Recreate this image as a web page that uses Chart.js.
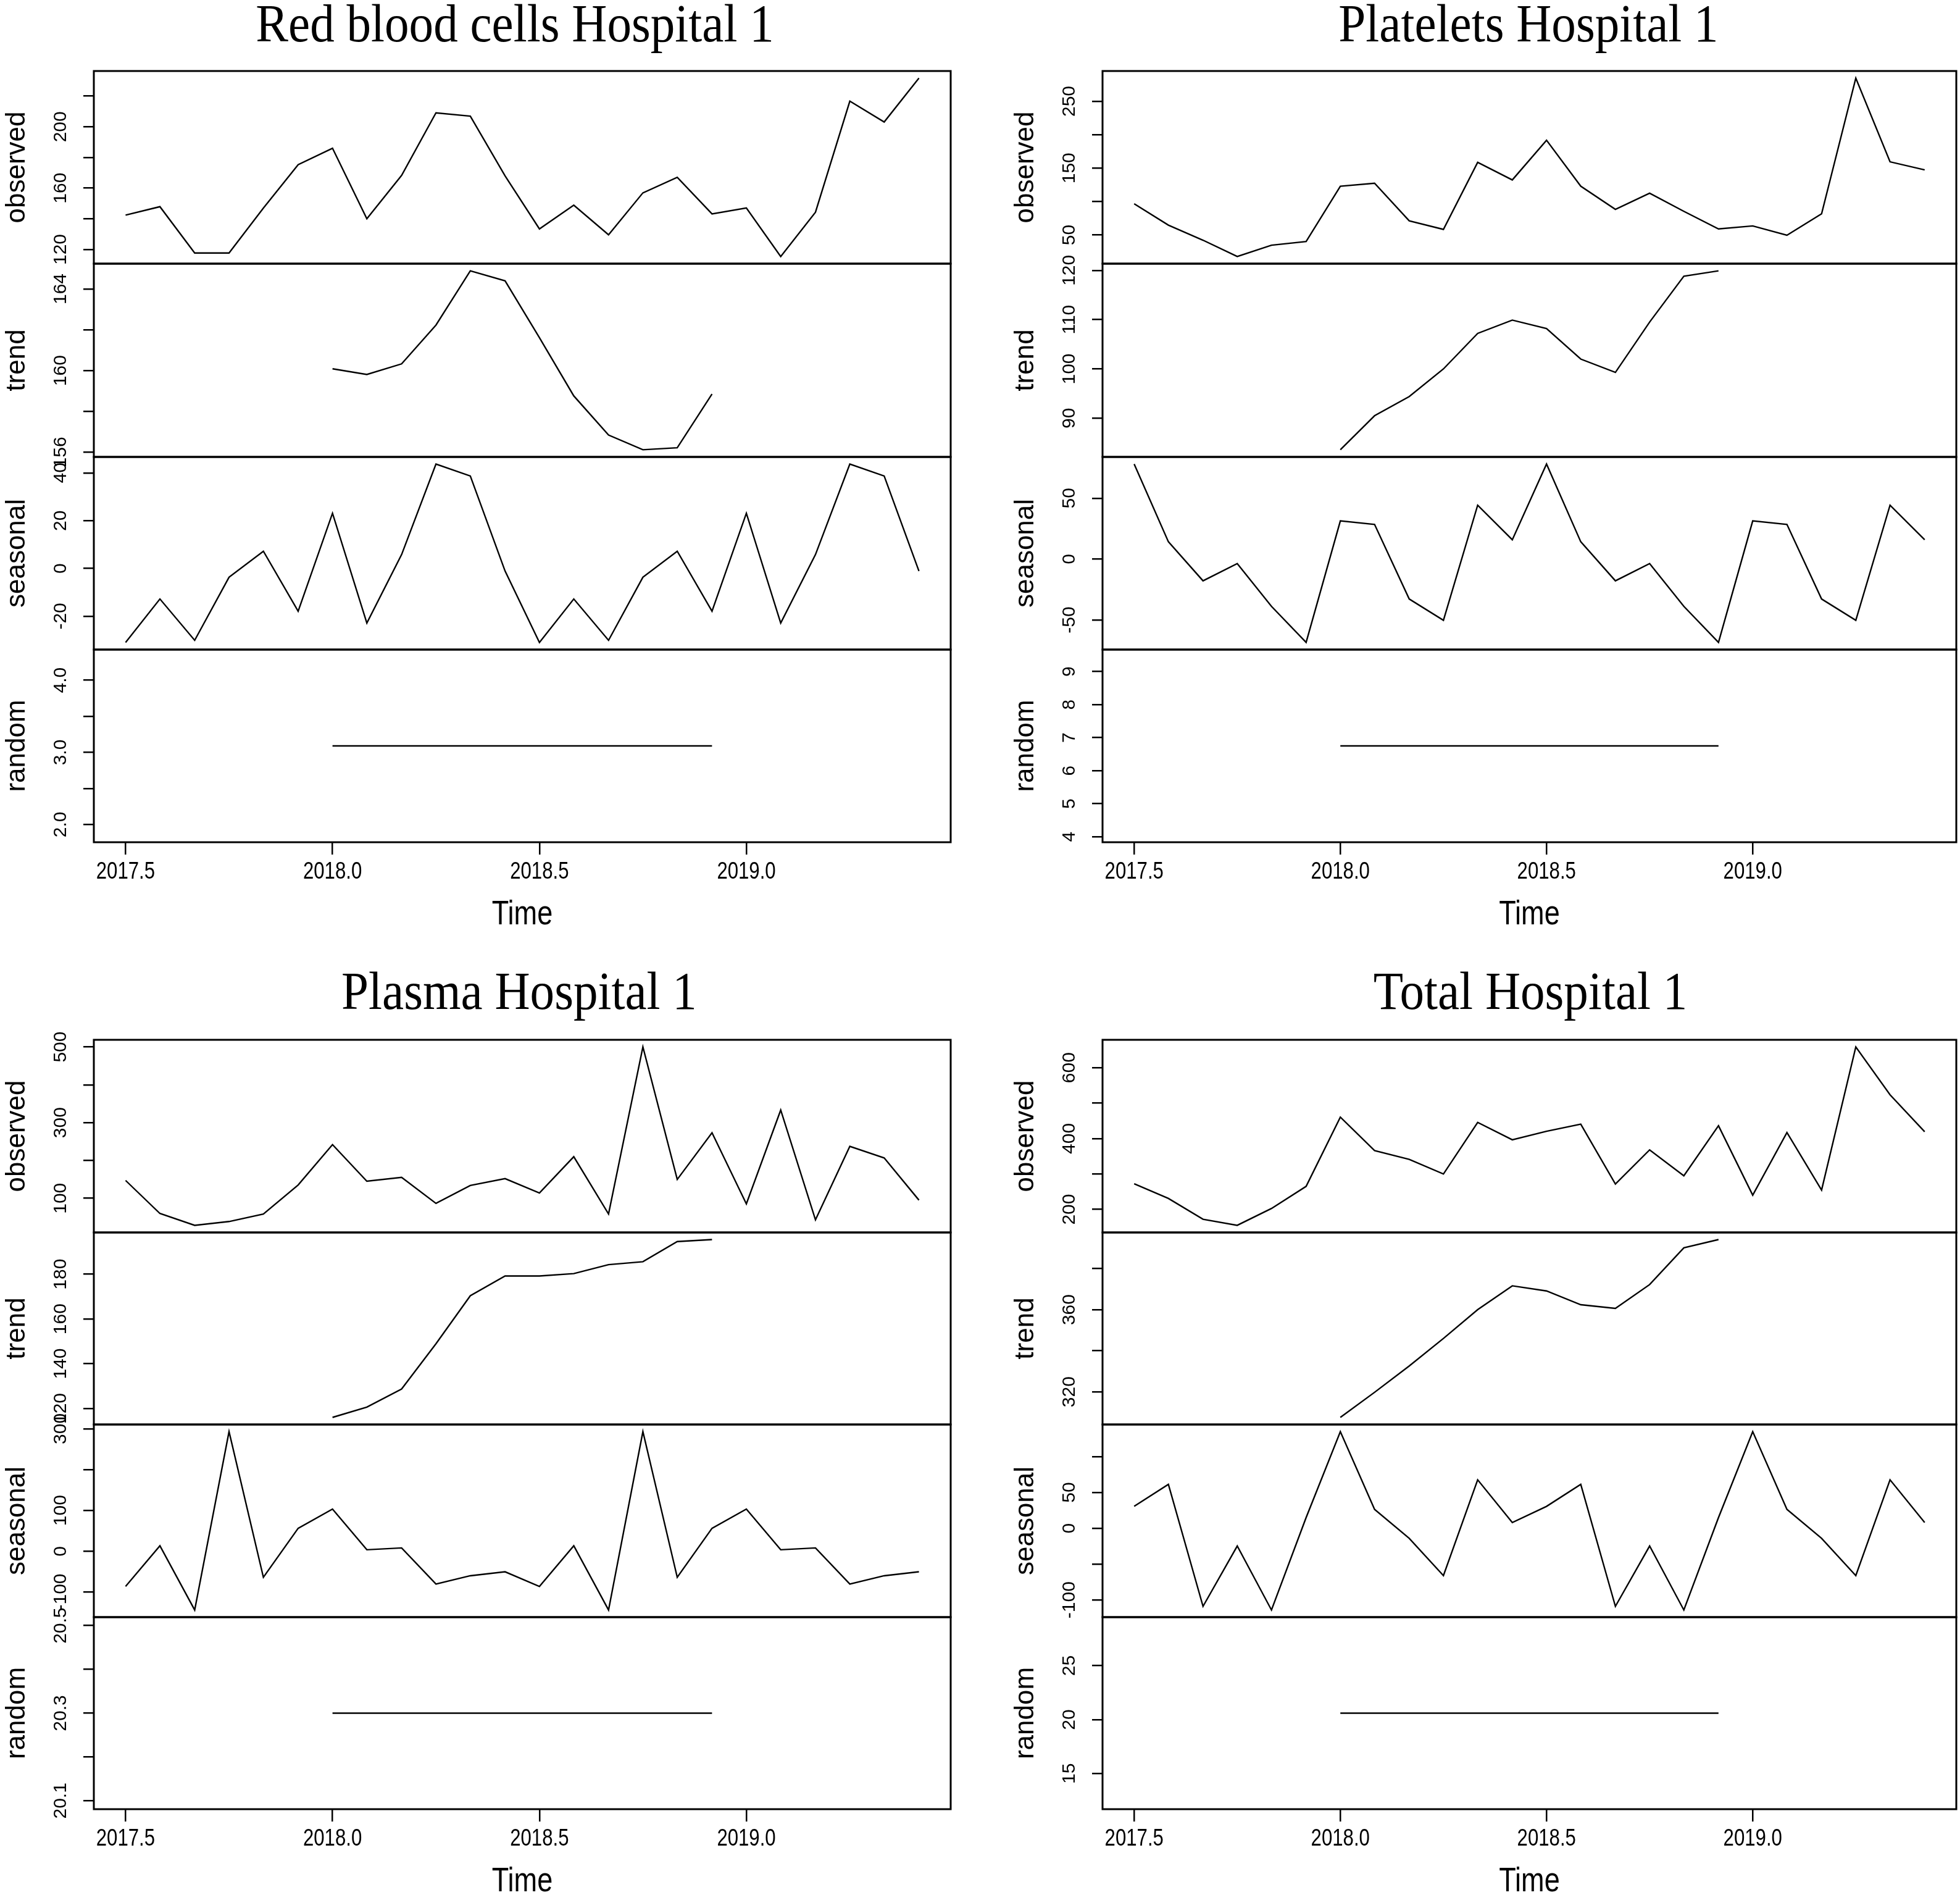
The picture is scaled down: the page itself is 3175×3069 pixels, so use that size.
<!DOCTYPE html>
<html>
<head>
<meta charset="utf-8">
<script src="https://cdn.jsdelivr.net/npm/chart.js@4.4.1/dist/chart.umd.min.js"></script>
<style>
  body { margin: 0; background: #fff; width: 3175px; height: 3069px; position: relative; overflow: hidden; }
  canvas { position: absolute; }
  .title { position: absolute; font-family: "Liberation Serif", "Times New Roman", serif; font-size: 86px; line-height: 1; color: #000; white-space: nowrap; transform: translateX(-50%) scaleX(0.92); }
</style>
</head>
<body>
<script>
// monthly time axis, Jul 2017 - Jun 2019
const time = [2017.5, 2017.583, 2017.667, 2017.75, 2017.833, 2017.917,
              2018.0, 2018.083, 2018.167, 2018.25, 2018.333, 2018.417,
              2018.5, 2018.583, 2018.667, 2018.75, 2018.833, 2018.917,
              2019.0, 2019.083, 2019.167, 2019.25, 2019.333, 2019.417];
const xTickValues = [2017.5, 2018.0, 2018.5, 2019.0];
const xTickLabels = ['2017.5', '2018.0', '2018.5', '2019.0'];

// Red blood cells
const rbcObserved = [142.4, 147.9, 117.7, 117.7, 147, 175.3, 186, 140, 168.3, 209.1, 206.9, 168,
                     133.4, 148.9, 129.6, 156.9, 167, 143.2, 147.1, 115.4, 144.3, 216.7, 203.1, 231.7];
const rbcTrend = [null, null, null, null, null, null,
                  160.09, 159.81, 160.33, 162.23, 164.89, 164.40, 161.61, 158.76, 156.84, 156.12, 156.22, 158.85,
                  null, null, null, null, null, null];
const rbcSeasonal = [-31.0, -12.8, -30.1, -3.7, 7.2, -17.9, 23.1, -22.9, 5.8, 43.7, 38.7, -1.1,
                     -31.0, -12.8, -30.1, -3.7, 7.2, -17.9, 23.1, -22.9, 5.8, 43.7, 38.7, -1.1];
const rbcRandom = [null, null, null, null, null, null,
                   3.09, 3.09, 3.09, 3.09, 3.09, 3.09, 3.09, 3.09, 3.09, 3.09, 3.09, 3.09,
                   null, null, null, null, null, null];

// Platelets
const pltObserved = [96.6, 64.7, 42.1, 17.7, 34.6, 40.2, 122.9, 127.4, 71.1, 58.3, 158.6, 132.3,
                     191.7, 122.9, 88.3, 112.4, 85.3, 59, 63.5, 49.6, 81.6, 284.6, 159.4, 147.4];
const pltTrend = [null, null, null, null, null, null,
                  83.6, 90.5, 94.4, 100, 107.2, 109.9, 108.2, 102.0, 99.3, 109.5, 118.8, 119.9,
                  null, null, null, null, null, null];
const pltSeasonal = [78.0, 14.2, -17.9, -3.7, -38.9, -68.5, 31.3, 28.4, -32.8, -50.3, 44.2, 15.8,
                     78.0, 14.2, -17.9, -3.7, -38.9, -68.5, 31.3, 28.4, -32.8, -50.3, 44.2, 15.8];
const pltRandom = [null, null, null, null, null, null,
                   6.75, 6.75, 6.75, 6.75, 6.75, 6.75, 6.75, 6.75, 6.75, 6.75, 6.75, 6.75,
                   null, null, null, null, null, null];

// Plasma
const plsObserved = [147.3, 60, 28.7, 38.7, 58.7, 135.3, 242, 145.3, 155.3, 86.7, 134, 152,
                     114, 210, 58.7, 500, 150, 273.3, 85.3, 333.3, 43.3, 237.3, 206.7, 95.3];
const plsTrend = [null, null, null, null, null, null,
                  116.0, 120.6, 128.7, 148.9, 170.4, 179.2, 179.2, 180.3, 184.3, 185.6, 194.6, 195.5,
                  null, null, null, null, null, null];
const plsSeasonal = [-86.1, 13.5, -143.8, 292.9, -63.7, 56.2, 103.4, 3.7, 8.2, -80.1, -59.9, -50.2,
                     -86.1, 13.5, -143.8, 292.9, -63.7, 56.2, 103.4, 3.7, 8.2, -80.1, -59.9, -50.2];
const plsRandom = [null, null, null, null, null, null,
                   20.3, 20.3, 20.3, 20.3, 20.3, 20.3, 20.3, 20.3, 20.3, 20.3, 20.3, 20.3,
                   null, null, null, null, null, null];

// Total
const totObserved = [272.1, 230.9, 172, 154.9, 202.5, 265, 460.4, 365.9, 341, 299.8, 445.5, 396.4,
                     420.6, 440.5, 271.4, 368, 294.8, 436.2, 240.1, 417.1, 254.4, 658.6, 523.6, 419.2];
const totTrend = [null, null, null, null, null, null,
                  307.6, 319.8, 332.6, 346, 360, 371.6, 369.1, 362.4, 360.6, 372.2, 390.1, 394.1,
                  null, null, null, null, null, null];
const totSeasonal = [30.6, 61.3, -108.9, -24.7, -114, 15, 134.9, 26.4, -14, -66, 67.7, 8.1,
                     30.6, 61.3, -108.9, -24.7, -114, 15, 134.9, 26.4, -14, -66, 67.7, 8.1];
const totRandom = [null, null, null, null, null, null,
                   20.6, 20.6, 20.6, 20.6, 20.6, 20.6, 20.6, 20.6, 20.6, 20.6, 20.6, 20.6,
                   null, null, null, null, null, null];

// y tick marks and the ones that carry a label
const rbcTicks = [[120, 140, 160, 180, 200, 220], [156, 158, 160, 162, 164], [-20, 0, 20, 40], [2.0, 2.5, 3.0, 3.5, 4.0]];
const rbcLabels = [['120', '160', '200'], ['156', '160', '164'], ['-20', '0', '20', '40'], ['2.0', '3.0', '4.0']];
const pltTicks = [[50, 100, 150, 200, 250], [90, 100, 110, 120], [-50, 0, 50], [4, 5, 6, 7, 8, 9]];
const pltLabels = [['50', '150', '250'], ['90', '100', '110', '120'], ['-50', '0', '50'], ['4', '5', '6', '7', '8', '9']];
const plsTicks = [[100, 200, 300, 400, 500], [120, 140, 160, 180], [-100, 0, 100, 200, 300], [20.1, 20.2, 20.3, 20.4, 20.5]];
const plsLabels = [['100', '300', '500'], ['120', '140', '160', '180'], ['-100', '0', '100', '300'], ['20.1', '20.3', '20.5']];
const totTicks = [[200, 300, 400, 500, 600], [320, 340, 360, 380], [-100, -50, 0, 50, 100], [15, 20, 25]];
const totLabels = [['200', '400', '600'], ['320', '360'], ['-100', '0', '50'], ['15', '20', '25']];

const rowNames = ['observed', 'trend', 'seasonal', 'random'];
const SANS = '"Liberation Sans", Arial, sans-serif';
const AXIS_W = 152;
const X_AXIS_H = 150;
const PAD = 40; // canvases overlap so tick labels can run over the strip edges

// R style range: data range plus 4%, flat series widened first
function rRange(vals, flat) {
  const v = vals.filter(d => d !== null);
  let lo = Math.min(...v), hi = Math.max(...v);
  if (hi === lo) { lo -= Math.abs(lo) * flat; hi += Math.abs(hi) * flat; }
  const pad = (hi - lo) * 0.04;
  return [lo - pad, hi + pad];
}

const xPad = (time[time.length - 1] - time[0]) * 0.04;
const xMin = time[0] - xPad, xMax = time[time.length - 1] + xPad;

// draws text squeezed horizontally (stands in for a narrow face)
function narrowText(ctx, txt, x, y, size) {
  ctx.save();
  ctx.translate(x, y);
  ctx.scale(0.82, 1);
  ctx.font = size + 'px ' + SANS;
  ctx.textAlign = 'center';
  ctx.textBaseline = 'middle';
  ctx.fillText(txt, 0, 0);
  ctx.restore();
}

// box around each strip, rotated y labels, x labels on the bottom strip
const rAxis = {
  id: 'rAxis',
  afterDraw(chart, args, opts) {
    const { ctx, chartArea: a } = chart;
    const ys = chart.scales.y;
    ctx.save();
    ctx.strokeStyle = '#000';
    ctx.lineWidth = 3;
    ctx.strokeRect(a.left, a.top, a.right - a.left, a.bottom - a.top);
    ctx.fillStyle = '#000';
    ctx.font = '30px ' + SANS;
    ctx.textAlign = 'center';
    ctx.textBaseline = 'middle';
    opts.labels.forEach(lab => {
      ctx.save();
      ctx.translate(a.left - 53, ys.getPixelForValue(parseFloat(lab)));
      ctx.rotate(-Math.PI / 2);
      ctx.fillText(lab, 0, 0);
      ctx.restore();
    });
    if (opts.bottom) {
      const xs = chart.scales.x;
      xTickValues.forEach((v, i) => narrowText(ctx, xTickLabels[i], xs.getPixelForValue(v), a.bottom + 49, 38));
      narrowText(ctx, 'Time', (a.left + a.right) / 2, a.bottom + 118, 55);
    }
    ctx.restore();
  }
};

function strip(left, top, width, height, name, series, ticks, labels, flat, bottom) {
  const c = document.createElement('canvas');
  c.width = width; c.height = height;
  c.style.left = left + 'px'; c.style.top = top + 'px';
  document.body.appendChild(c);
  const [yMin, yMax] = rRange(series, flat);
  new Chart(c, {
    type: 'line',
    data: {
      datasets: [{
        data: time.map((t, i) => ({ x: t, y: series[i] })),
        borderColor: '#000',
        borderWidth: 2.4,
        pointRadius: 0,
        tension: 0,
        fill: false,
        spanGaps: false
      }]
    },
    options: {
      responsive: false,
      animation: false,
      devicePixelRatio: 1,
      layout: { padding: { top: PAD, right: 6, bottom: bottom ? 0 : PAD, left: 0 } },
      plugins: { legend: { display: false }, tooltip: { enabled: false }, rAxis: { labels: labels, bottom: bottom } },
      scales: {
        x: {
          type: 'linear',
          display: bottom,
          min: xMin,
          max: xMax,
          afterBuildTicks: s => { s.ticks = xTickValues.map(v => ({ value: v })); },
          afterFit: s => { s.height = bottom ? X_AXIS_H : 0; },
          grid: { drawOnChartArea: false, tickLength: 20, color: '#000', lineWidth: 2.5 },
          border: { display: false },
          ticks: { display: false },
          title: { display: false }
        },
        y: {
          type: 'linear',
          min: yMin,
          max: yMax,
          afterBuildTicks: s => { s.ticks = ticks.map(v => ({ value: v })); },
          afterFit: s => { s.width = AXIS_W; },
          grid: { drawOnChartArea: false, tickLength: 17, color: '#000', lineWidth: 2.5 },
          border: { display: false },
          ticks: { display: false },
          title: { display: true, text: name, color: '#000', font: { family: SANS, size: 44 }, padding: { top: 1, bottom: 0 } }
        }
      }
    },
    plugins: [rAxis]
  });
}

function panel(title, titleX, titleY, boxL, boxR, boxT, boxB, rows, ticks, labels, flats) {
  const t = document.createElement('div');
  t.className = 'title';
  t.textContent = title;
  t.style.left = titleX + 'px';
  t.style.top = titleY + 'px';
  document.body.appendChild(t);
  const h = (boxB - boxT) / 4;
  for (let k = 0; k < 4; k++) {
    const y0 = Math.round(boxT + k * h), y1 = Math.round(boxT + (k + 1) * h);
    const last = k === 3;
    strip(boxL - AXIS_W, y0 - PAD, AXIS_W + (boxR - boxL) + 6, (y1 - y0) + PAD + (last ? X_AXIS_H : PAD),
          rowNames[k], rows[k], ticks[k], labels[k], flats[k], last);
  }
}

panel('Red blood cells Hospital 1', 834, -5, 152, 1540, 115, 1364,
      [rbcObserved, rbcTrend, rbcSeasonal, rbcRandom], rbcTicks, rbcLabels, [0, 0, 0, 0.4]);
panel('Platelets Hospital 1', 2476, -5, 1786, 3169, 115, 1364,
      [pltObserved, pltTrend, pltSeasonal, pltRandom], pltTicks, pltLabels, [0, 0, 0, 0.4]);
panel('Plasma Hospital 1', 841, 1562, 152, 1540, 1684, 2930,
      [plsObserved, plsTrend, plsSeasonal, plsRandom], plsTicks, plsLabels, [0, 0, 0, 0.01]);
panel('Total Hospital 1', 2479, 1562, 1786, 3169, 1684, 2930,
      [totObserved, totTrend, totSeasonal, totRandom], totTicks, totLabels, [0, 0, 0, 0.4]);
</script>
</body>
</html>
